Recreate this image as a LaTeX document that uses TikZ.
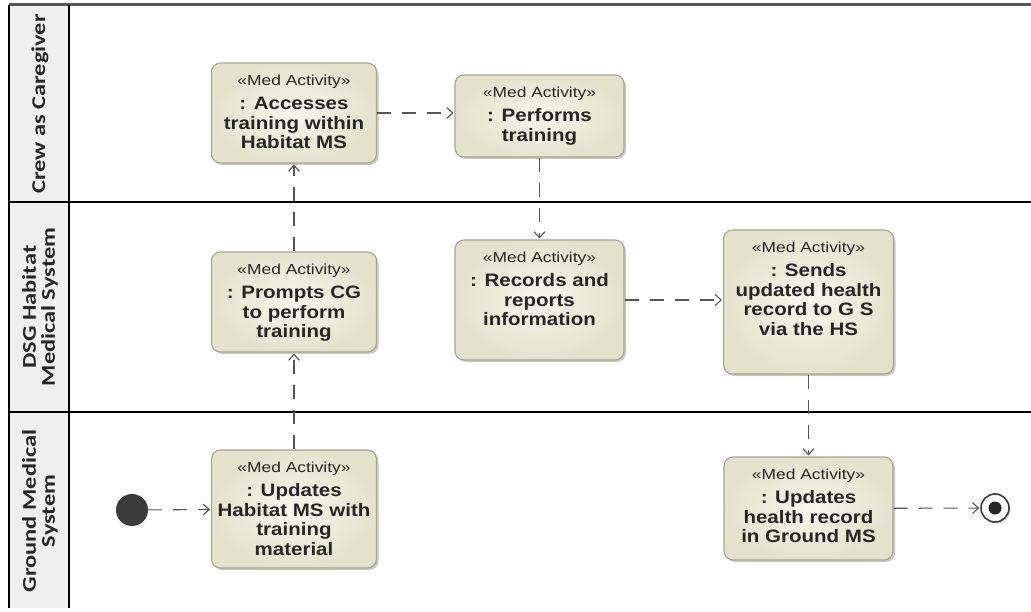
\documentclass[tikz,border=0pt]{standalone}
\usepackage{fontspec}
\setmainfont{Liberation Sans}
\newfontfamily\stereofont{Liberation Sans}[FakeStretch=1.2]
\newfontfamily\namefont{Liberation Sans}[FakeStretch=1.14]
\newfontfamily\lanefam{Carlito}[FakeStretch=1.25]
\usetikzlibrary{arrows.meta,shadows}

\definecolor{actin}{HTML}{F6F6EC}
\definecolor{actout}{HTML}{E3E3CC}
\definecolor{actline}{HTML}{A6A68E}
\definecolor{flowcol}{HTML}{555555}
\definecolor{lanebg}{HTML}{EFEFEF}
\definecolor{inkcol}{HTML}{262626}

\tikzset{
  activity/.style={draw=actline, line width=1.1pt, rounded corners=9pt,
    inner color=actin, outer color=actout,
    drop shadow={shadow xshift=2pt, shadow yshift=-2pt, opacity=0.3, fill=black!70}},
  acttext/.style={align=center, inner sep=0pt, text=inkcol,
    font=\namefont\fontsize{18}{19.5}\selectfont\bfseries},
  flow/.style={draw=flowcol, line width=1.1pt, dash pattern=on 14pt off 11pt,
    -{Straight Barb[length=6pt,width=11pt,line width=1.1pt]}, shorten >=1pt},
  lanelabel/.style={rotate=90, align=center, text=inkcol, inner sep=0pt,
    font=\lanefam\bfseries\fontsize{19.5}{19}\selectfont},
  laneline/.style={draw=black, line width=1.4pt},
}

% box with the stereotype and the activity name set from the top
\newcommand\medactivity[6]{%
  \node[activity, minimum width=#4pt, minimum height=#5pt] (#1) at (#2,#3) {};
  \node[acttext, anchor=north] (#1-text) at ([yshift=-12pt]#1.north)
    {{\stereofont\mdseries\fontsize{14.5}{16}\selectfont «Med Activity»}\\[5pt] #6};
}

\begin{document}
\begin{tikzpicture}[x=1pt, y=-1pt]
\useasboundingbox (0,0) rectangle (1031,612);

% swimlane frame
\fill[lanebg] (9,5) rectangle (69,608);
\draw[draw=flowcol, line width=3pt] (9,5) -- (1031,5);
\draw[laneline] (9,5) -- (9,608);
\draw[laneline] (69,5) -- (69,608);
\draw[laneline] (9,202) -- (1031,202);
\draw[laneline] (9,412) -- (1031,412);

\node[lanelabel] (lane1) at (40,104) {Crew as Caregiver};
\node[lanelabel] (lane2) at (40,307) {DSG Habitat\\Medical System};
\node[lanelabel] (lane3) at (40,511) {Ground Medical\\System};

% activities
\medactivity{acc}{294}{113}{165}{100}{: Accesses\\training within\\Habitat MS}
\medactivity{perf}{539.5}{116}{169}{82}{: Performs\\training}
\medactivity{prm}{294}{302}{165}{100}{: Prompts CG\\to perform\\training}
\medactivity{rec}{539.5}{300}{169}{120}{: Records and\\reports\\information}
\medactivity{snd}{808.5}{302}{170}{144}{: Sends\\updated health\\record to G S\\via the HS}
\medactivity{upd}{294}{509}{165}{118}{: Updates\\Habitat MS with\\training\\material}
\medactivity{uhr}{808.5}{508.5}{169}{103}{: Updates\\health record\\in Ground MS}

% initial and final nodes
\node[circle, fill=inkcol!90, minimum size=32pt, inner sep=0pt] (start) at (132,510) {};
\node[circle, draw=inkcol!90, line width=1.6pt, fill=white, minimum size=28pt, inner sep=0pt,
  drop shadow={shadow xshift=1.5pt, shadow yshift=-1.5pt, opacity=0.3}] (stop) at (995,508) {};
\node[circle, fill=inkcol, minimum size=13pt, inner sep=0pt] (stopdot) at (stop.center) {};

% control flows
\draw[flow] (start) -- (upd);
\draw[flow] (upd) -- (prm);
\draw[flow] (prm) -- (acc);
\draw[flow] (acc) -- (perf.west |- acc);
\draw[flow] (perf) -- (rec);
\draw[flow] (rec) -- (snd.west |- rec);
\draw[flow] (snd) -- (uhr);
\draw[flow] (uhr) -- (stop);
\end{tikzpicture}
\end{document}
